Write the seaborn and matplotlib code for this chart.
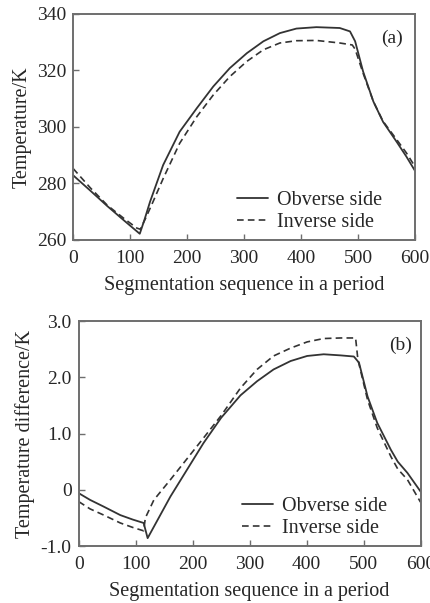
import matplotlib
matplotlib.use("Agg")
import matplotlib.pyplot as plt
import seaborn as sns

# Panel (a): surface temperature over one period
a_obv_x = [0, 30, 60, 90, 117, 125, 135, 158, 187, 217, 246, 275, 305, 334, 363, 392, 427, 468, 486, 495, 509, 527, 544, 568, 585, 600]
a_obv_y = [282.9, 277.5, 272.0, 266.8, 262.2, 267.0, 273.5, 286.5, 298.3, 306.6, 314.3, 320.8, 326.1, 330.3, 333.2, 334.8, 335.3, 335.0, 333.8, 330.3, 319.6, 309.0, 301.8, 294.7, 289.5, 284.5]
a_inv_x = [0, 30, 60, 90, 112, 118, 128, 140, 158, 187, 217, 246, 275, 305, 334, 363, 392, 427, 468, 490, 495, 509, 527, 544, 568, 585, 600]
a_inv_y = [285.3, 278.5, 272.3, 267.5, 264.2, 263.8, 268.0, 273.4, 281.7, 294.2, 303.6, 311.3, 317.8, 323.2, 327.3, 329.7, 330.5, 330.6, 329.7, 329.0, 327.5, 319.0, 309.0, 302.0, 295.5, 290.8, 286.0]

# Panel (b): temperature difference over one period
b_obv_x = [0, 20, 44, 73, 95, 114, 121, 161, 219, 250, 284, 313, 342, 372, 401, 430, 460, 483, 492, 507, 524, 548, 560, 577, 600]
b_obv_y = [-0.06, -0.18, -0.30, -0.45, -0.53, -0.59, -0.86, -0.12, 0.83, 1.28, 1.68, 1.93, 2.14, 2.29, 2.38, 2.41, 2.39, 2.37, 2.26, 1.66, 1.19, 0.71, 0.50, 0.30, -0.03]
b_inv_x = [0, 20, 44, 73, 95, 114, 117, 132, 161, 219, 250, 284, 313, 342, 372, 401, 430, 460, 486, 490, 507, 524, 548, 560, 577, 600]
b_inv_y = [-0.21, -0.34, -0.45, -0.59, -0.67, -0.73, -0.50, -0.18, 0.18, 0.92, 1.32, 1.81, 2.14, 2.38, 2.52, 2.63, 2.69, 2.70, 2.70, 2.32, 1.60, 1.10, 0.59, 0.37, 0.18, -0.22]

x_ticks = [0, 100, 200, 300, 400, 500, 600]
a_yticks = [260, 280, 300, 320, 340]
b_yticks = [-1.0, 0.0, 1.0, 2.0, 3.0]
b_ylabels = ["-1.0", "0", "1.0", "2.0", "3.0"]

sns.set_style("ticks")
plt.rcParams["font.family"] = ["Liberation Serif", "DejaVu Serif"]
plt.rcParams["font.size"] = 14

line_col = "#333333"
spine_col = "#6e6e6e"
dash = (0, (4, 2.5))

fig = plt.figure(figsize=(4.3, 6.03), dpi=100)
ax1 = fig.add_axes([0.170, 0.602, 0.795, 0.375])
ax2 = fig.add_axes([0.183, 0.0945, 0.795, 0.373])


def style_axis(ax):
    for s in ax.spines.values():
        s.set_color(spine_col)
        s.set_linewidth(1.4)
    ax.tick_params(direction="in", length=4, width=1, color=spine_col, labelsize=14)
    ax.tick_params(axis="x", pad=7.5)
    ax.tick_params(axis="y", pad=5)
    ax.set_xlim(0, 600)
    ax.set_xticks(x_ticks)
    ax.set_xlabel("Segmentation sequence in a period", fontsize=14.5, labelpad=6)


def add_legend(ax):
    ax.legend(frameon=False, loc="lower right", bbox_to_anchor=(0.927, 0.0), fontsize=14.5,
              borderaxespad=0, handlelength=1.55, labelspacing=0.12, handletextpad=0.45)


sns.lineplot(x=a_obv_x, y=a_obv_y, ax=ax1, color=line_col, lw=1.3, label="Obverse side")
sns.lineplot(x=a_inv_x, y=a_inv_y, ax=ax1, color=line_col, lw=1.2, linestyle=dash, label="Inverse side")
style_axis(ax1)
ax1.set_ylim(260, 340)
ax1.set_yticks(a_yticks)
ax1.set_ylabel("Temperature/K", fontsize=14.5, labelpad=4)
ax1.text(0.965, 0.93, "(a)", transform=ax1.transAxes, ha="right", va="top", fontsize=14)
add_legend(ax1)

sns.lineplot(x=b_obv_x, y=b_obv_y, ax=ax2, color=line_col, lw=1.3, label="Obverse side")
sns.lineplot(x=b_inv_x, y=b_inv_y, ax=ax2, color=line_col, lw=1.2, linestyle=dash, label="Inverse side")
style_axis(ax2)
ax2.set_ylim(-1.0, 3.0)
ax2.set_yticks(b_yticks)
ax2.set_yticklabels(b_ylabels)
ax2.set_ylabel("Temperature difference/K", fontsize=14.5, labelpad=4)
ax2.text(0.975, 0.93, "(b)", transform=ax2.transAxes, ha="right", va="top", fontsize=14)
add_legend(ax2)

fig.savefig("out.png", dpi=100)
